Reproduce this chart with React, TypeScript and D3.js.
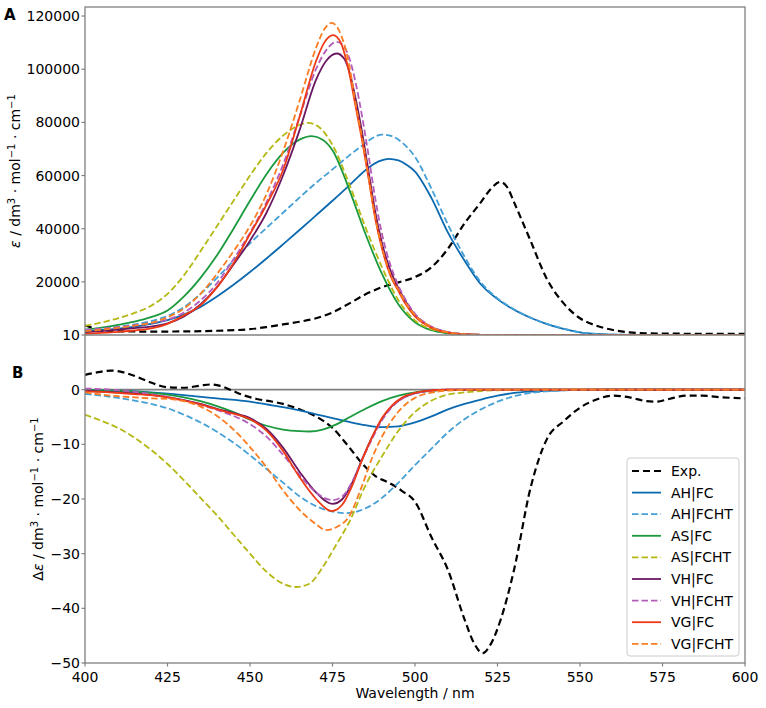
import React from 'react';
import * as d3 from 'd3';

type P = [number, number];

const X_TICKS = [400, 425, 450, 475, 500, 525, 550, 575, 600];
const A_TICKS = [10, 20000, 40000, 60000, 80000, 100000, 120000];
const B_TICKS = [0, -10, -20, -30, -40, -50];

const SERIES_NAMES = ['Exp.', 'AH|FC', 'AH|FCHT', 'AS|FC', 'AS|FCHT', 'VH|FC', 'VH|FCHT', 'VG|FC', 'VG|FCHT'];
const SERIES_COLORS = ['#000000', '#0b69b0', '#45a0d6', '#1a9a3c', '#b5b814', '#6a1862', '#b45cba', '#ee3a16', '#fb7d22'];
const SERIES_DASHED = [true, false, true, false, true, false, true, false, true];

// Panel A: absorption (epsilon)
const A_EXP: P[] = [[400,3600],[402,2800],[405,1800],[410,1400],[420,1300],[430,1350],[440,1600],[450,2200],[455,3000],[460,4000],[465,5000],[470,6300],[475,8500],[480,11800],[485,15300],[490,18000],[495,19800],[500,21800],[505,25500],[510,32500],[515,42000],[520,50000],[523,55000],[525.8,57600],[528,55500],[530,50000],[535,35500],[540,21000],[545,12000],[550,6300],[555,3500],[560,1900],[565,1000],[570,650],[580,500],[590,450],[600,450]];
const A_AH_FC: P[] = [[400,1300],[405,1800],[410,2400],[415,3200],[420,4200],[425,5600],[430,7700],[435,10600],[440,14500],[445,18900],[450,23700],[455,28800],[460,34100],[465,39500],[470,45000],[475,50500],[480,56200],[483,59800],[486,63000],[489,65300],[492,66300],[495,65700],[497.5,64000],[500,61500],[505,51500],[510,38500],[515,28000],[520,19000],[525,13500],[530,9500],[535,6500],[540,4100],[545,2300],[550,1000],[555,400],[560,150],[570,20],[600,0]];
const A_AH_FCHT: P[] = [[400,1900],[405,2500],[410,3100],[415,4000],[420,5200],[425,7200],[430,10500],[435,15500],[440,21500],[445,28000],[450,34500],[455,40300],[460,46000],[465,51700],[470,57200],[475,62300],[480,67500],[485,72200],[487,74000],[490,75400],[493,74800],[496,72500],[500,67000],[505,55000],[510,41500],[515,29500],[520,19800],[525,13800],[530,9700],[535,6600],[540,4200],[545,2400],[550,1050],[555,420],[560,160],[570,20],[600,0]];
const A_AS_FC: P[] = [[400,2000],[405,2800],[410,3800],[415,5000],[420,6700],[425,9200],[430,14500],[435,21500],[440,30000],[445,40000],[450,50500],[455,60500],[460,68500],[465,73500],[468.7,74800],[472,73500],[475,69500],[480,55000],[485,38000],[490,23000],[495,11500],[500,4800],[505,1800],[510,600],[515,180],[520,50],[530,0],[600,0]];
const A_AS_FCHT: P[] = [[400,3400],[405,4700],[410,6300],[415,8300],[420,11000],[425,15500],[430,22500],[435,31500],[440,41000],[445,50500],[450,60000],[455,68500],[460,75000],[465,79000],[467.5,79800],[470,79000],[475,71500],[480,57000],[485,40500],[490,25500],[495,13000],[500,5500],[505,2200],[510,800],[515,250],[520,80],[530,0],[600,0]];
const A_VH_FC: P[] = [[400,1100],[405,1500],[410,2000],[415,2600],[420,3200],[425,4400],[430,7000],[435,11500],[440,18000],[445,26500],[450,35500],[455,46000],[460,60000],[465,77000],[470,96000],[473,103000],[476.3,105900],[478.5,104000],[480,99500],[482,89000],[484,76000],[486,61000],[488,46000],[490,34500],[492.5,24500],[495,17500],[497.5,12000],[500,7500],[505,3000],[510,1000],[515,300],[520,80],[530,0],[600,0]];
const A_VH_FCHT: P[] = [[400,1900],[405,2400],[410,3000],[415,3700],[420,4500],[425,5800],[430,8500],[435,13000],[440,19500],[445,28500],[450,38500],[455,50000],[460,64000],[465,82000],[470,100000],[473,107000],[476.3,110300],[478.5,108500],[480,104500],[482,95000],[484,82000],[486,67000],[488,51000],[490,38000],[492.5,26500],[495,18500],[497.5,12500],[500,8000],[505,3200],[510,1100],[515,350],[520,100],[530,0],[600,0]];
const A_VG_FC: P[] = [[400,400],[405,800],[410,1200],[415,1700],[420,2500],[425,4200],[430,7400],[435,11200],[440,18000],[445,27000],[450,38000],[455,49000],[460,62000],[465,82000],[470,103000],[472.5,110000],[475.2,112800],[477.5,110000],[480,99000],[482,86000],[484,73000],[486,58500],[488,43500],[490,32500],[492.5,22500],[495,16500],[497.5,11000],[500,7000],[505,2700],[510,900],[515,250],[520,60],[530,0],[600,0]];
const A_VG_FCHT: P[] = [[400,1500],[405,2000],[410,2700],[415,3500],[420,4600],[425,6700],[430,10000],[435,15500],[440,23000],[445,31500],[450,41000],[455,53000],[460,69000],[465,88000],[470,108000],[472.5,115000],[474.7,117400],[477,114500],[480,102000],[482,87000],[484,74000],[486,59000],[488,44000],[490,33000],[492.5,23000],[495,17000],[497.5,11500],[500,7500],[505,3000],[510,1000],[515,300],[520,80],[530,0],[600,0]];

// Panel B: circular dichroism (delta epsilon)
const B_EXP: P[] = [[400,2.7],[404,3.2],[408,3.5],[412,3.1],[416,2.3],[420,1.3],[425,0.45],[430,0.35],[435,0.75],[438,0.95],[441,0.7],[444,0.0],[448,-1.0],[452,-1.7],[456,-2.1],[460,-2.6],[465,-3.6],[470,-4.9],[475,-7.0],[480,-10.5],[484,-13.5],[488,-15.8],[492,-17.0],[496,-18.5],[500,-20.5],[505,-27],[510,-33],[515,-42],[518,-46.5],[520.5,-48.2],[523,-46.5],[526,-42],[530,-33],[535,-18],[540,-9],[545,-5.8],[550,-3.3],[555,-1.8],[560,-1.1],[565,-1.4],[570,-2.1],[573,-2.2],[577,-1.7],[582,-1.1],[587,-1.1],[593,-1.4],[600,-1.6]];
const B_AH_FC: P[] = [[400,-0.05],[410,-0.2],[420,-0.5],[430,-1.0],[440,-1.6],[450,-2.2],[455,-2.7],[460,-3.2],[465,-3.8],[470,-4.5],[475,-5.2],[480,-5.9],[485,-6.5],[490,-6.85],[495,-6.7],[500,-6.0],[505,-4.9],[510,-3.6],[515,-2.6],[520,-1.8],[525,-1.1],[530,-0.6],[535,-0.35],[540,-0.2],[550,-0.05],[560,0],[600,0]];
const B_AH_FCHT: P[] = [[400,-0.75],[405,-1.1],[410,-1.5],[415,-2.0],[420,-2.6],[425,-3.4],[430,-4.6],[435,-6.0],[440,-7.7],[445,-9.7],[450,-12.0],[455,-14.5],[460,-17.0],[465,-19.5],[470,-21.3],[475,-22.3],[479,-22.6],[485,-21.7],[490,-19.8],[495,-17.0],[500,-13.8],[505,-10.8],[510,-7.8],[515,-5.4],[520,-3.6],[525,-2.2],[530,-1.2],[535,-0.6],[540,-0.3],[550,-0.05],[560,0],[600,0]];
const B_AS_FC: P[] = [[400,-0.05],[410,-0.2],[420,-0.6],[425,-0.9],[430,-1.4],[435,-2.1],[440,-3.0],[445,-4.1],[450,-5.5],[455,-6.6],[460,-7.3],[465,-7.6],[468,-7.65],[472,-7.3],[476,-6.4],[480,-5.1],[485,-3.5],[490,-2.1],[495,-1.1],[500,-0.5],[505,-0.2],[510,-0.05],[520,0],[600,0]];
const B_AS_FCHT: P[] = [[400,-4.6],[405,-5.7],[410,-7.0],[415,-8.8],[420,-11.0],[425,-13.6],[430,-16.6],[435,-19.8],[440,-23.0],[445,-26.5],[450,-30.0],[455,-33.3],[460,-35.5],[464,-36.1],[468,-35.5],[472,-32.5],[476,-28.5],[480,-24.3],[485,-17.5],[490,-12.2],[495,-7.5],[500,-4.1],[505,-2.0],[510,-0.9],[515,-0.5],[520,-0.25],[530,-0.05],[540,0],[600,0]];
const B_VH_FC: P[] = [[400,-0.2],[405,-0.35],[410,-0.5],[415,-0.7],[420,-0.95],[425,-1.35],[430,-1.9],[435,-2.6],[440,-3.5],[445,-4.3],[450,-5.2],[455,-7.2],[460,-10.6],[465,-15.0],[470,-18.8],[475,-20.9],[478,-20.0],[481,-17.0],[484,-12.7],[487,-8.7],[490,-5.3],[493,-3.0],[496,-1.6],[500,-0.65],[505,-0.15],[510,0],[600,0]];
const B_VH_FCHT: P[] = [[400,0.2],[405,0.1],[410,-0.1],[415,-0.4],[420,-0.8],[425,-1.3],[430,-2.0],[435,-2.8],[440,-3.7],[445,-4.8],[450,-6.3],[455,-8.6],[460,-11.9],[465,-15.6],[470,-18.8],[475,-20.2],[478,-19.5],[481,-16.8],[484,-12.8],[487,-9.0],[490,-5.6],[493,-3.2],[496,-1.7],[500,-0.7],[505,-0.2],[510,0],[600,0]];
const B_VG_FC: P[] = [[400,-0.3],[405,-0.4],[410,-0.6],[415,-0.8],[420,-1.0],[425,-1.4],[430,-2.0],[435,-2.7],[440,-3.6],[445,-4.4],[450,-5.4],[455,-7.5],[460,-11.2],[465,-16.0],[470,-20.0],[474.7,-22.2],[478,-21.0],[481,-17.5],[484,-12.8],[487,-8.7],[490,-5.2],[493,-2.9],[496,-1.5],[500,-0.6],[505,-0.15],[510,0],[600,0]];
const B_VG_FCHT: P[] = [[400,-0.5],[405,-0.9],[410,-1.2],[415,-1.4],[420,-1.6],[425,-1.7],[430,-2.1],[435,-3.1],[440,-4.8],[445,-7.3],[450,-10.5],[455,-14.2],[460,-18.4],[465,-22.0],[470,-24.6],[473,-25.7],[476,-25.2],[480,-23.2],[484,-17.5],[487,-12.5],[490,-8.6],[495,-4.0],[500,-1.5],[505,-0.55],[510,-0.15],[520,0],[600,0]];

const A_DATA = [A_EXP, A_AH_FC, A_AH_FCHT, A_AS_FC, A_AS_FCHT, A_VH_FC, A_VH_FCHT, A_VG_FC, A_VG_FCHT];
const B_DATA = [B_EXP, B_AH_FC, B_AH_FCHT, B_AS_FC, B_AS_FCHT, B_VH_FC, B_VH_FCHT, B_VG_FC, B_VG_FCHT];

const W = 766, H = 708;
const X0 = 85, X1 = 745, YT = 7, YM = 335, YB = 663;
const SPINE = '#808080';
const FS = 14;

const fmtB = (v: number) => (v < 0 ? '\u2212' + Math.abs(v) : String(v));

export default function App() {
  const x = d3.scaleLinear().domain([400, 600]).range([X0, X1]);
  const yA = d3.scaleLinear().domain([10, 123400]).range([YM, YT]);
  const yB = d3.scaleLinear().domain([-50, 10]).range([YB, YM]);
  const lineA = d3.line<P>().x(d => x(d[0])).y(d => yA(d[1])).curve(d3.curveMonotoneX);
  const lineB = d3.line<P>().x(d => x(d[0])).y(d => yB(d[1])).curve(d3.curveMonotoneX);

  const stroke = (i: number) => ({
    stroke: SERIES_COLORS[i],
    strokeWidth: i === 0 ? 2.2 : 1.8,
    strokeDasharray: SERIES_DASHED[i] ? (i === 0 ? '7,4' : '6.5,3') : undefined,
    fill: 'none',
  });

  const legX = 627, legY = 458, legW = 112, legH = 198, legRow = 21.6;

  return (
    <svg width={W} height={H} style={{ position: 'absolute', left: 0, top: 0, background: '#fff' }} fontFamily="DejaVu Sans" fontSize={FS}>
      <defs>
        <clipPath id="clipA"><rect x={X0} y={YT} width={X1 - X0} height={YM - YT} /></clipPath>
        <clipPath id="clipB"><rect x={X0} y={YM} width={X1 - X0} height={YB - YM} /></clipPath>
      </defs>
      <rect x={0} y={0} width={W} height={H} fill="#fff" />

      {/* zero line in B */}
      <line x1={X0} x2={X1} y1={yB(0)} y2={yB(0)} stroke={SPINE} strokeWidth={1.6} />

      <g clipPath="url(#clipA)">
        {A_DATA.map((d, i) => <path key={'a' + i} d={lineA(d) || ''} {...stroke(i)} />)}
      </g>
      <g clipPath="url(#clipB)">
        {B_DATA.map((d, i) => <path key={'b' + i} d={lineB(d) || ''} {...stroke(i)} />)}
      </g>

      {/* spines */}
      <rect x={X0} y={YT} width={X1 - X0} height={YB - YT} fill="none" stroke={SPINE} strokeWidth={1.3} />
      <line x1={X0} x2={X1} y1={YM} y2={YM} stroke={SPINE} strokeWidth={1.3} />

      {/* A y ticks */}
      {A_TICKS.map(t => (
        <g key={'ta' + t}>
          <line x1={X0 - 3.5} x2={X0} y1={yA(t)} y2={yA(t)} stroke={SPINE} strokeWidth={1.2} />
          <text x={X0 - 5} y={yA(t)} dy="0.36em" textAnchor="end">{String(t)}</text>
        </g>
      ))}
      {/* B y ticks */}
      {B_TICKS.map(t => (
        <g key={'tb' + t}>
          <line x1={X0 - 3.5} x2={X0} y1={yB(t)} y2={yB(t)} stroke={SPINE} strokeWidth={1.2} />
          <text x={X0 - 5} y={yB(t)} dy="0.36em" textAnchor="end">{fmtB(t)}</text>
        </g>
      ))}
      {/* x ticks */}
      {X_TICKS.map(t => (
        <g key={'tx' + t}>
          <line x1={x(t)} x2={x(t)} y1={YB} y2={YB + 3.5} stroke={SPINE} strokeWidth={1.2} />
          <text x={x(t)} y={682} textAnchor="middle">{String(t)}</text>
        </g>
      ))}
      <text x={(X0 + X1) / 2} y={698} textAnchor="middle">Wavelength / nm</text>

      {/* y labels */}
      <text transform={`translate(20,${(YT + YM) / 2}) rotate(-90)`} textAnchor="middle">
        <tspan fontStyle="italic">ε</tspan>
        <tspan> / dm</tspan>
        <tspan dy={-5} fontSize={10}>3</tspan>
        <tspan dy={5}> · mol</tspan>
        <tspan dy={-5} fontSize={10}>−1</tspan>
        <tspan dy={5}> · cm</tspan>
        <tspan dy={-5} fontSize={10}>−1</tspan>
      </text>
      <text transform={`translate(43,${(YM + YB) / 2}) rotate(-90)`} textAnchor="middle">
        <tspan>Δ</tspan>
        <tspan fontStyle="italic">ε</tspan>
        <tspan> / dm</tspan>
        <tspan dy={-5} fontSize={10}>3</tspan>
        <tspan dy={5}> · mol</tspan>
        <tspan dy={-5} fontSize={10}>−1</tspan>
        <tspan dy={5}> · cm</tspan>
        <tspan dy={-5} fontSize={10}>−1</tspan>
      </text>

      {/* panel letters */}
      <text x={4} y={20} fontWeight="bold" fontSize={15}>A</text>
      <text x={12} y={378} fontWeight="bold" fontSize={15}>B</text>

      {/* legend */}
      <rect x={legX} y={legY} width={legW} height={legH} rx={3} fill="#fff" fillOpacity={0.8} stroke="#cccccc" strokeWidth={1} />
      {SERIES_NAMES.map((n, i) => {
        const yy = legY + 13 + i * legRow;
        return (
          <g key={'l' + i}>
            <line x1={legX + 5} x2={legX + 34} y1={yy} y2={yy} {...stroke(i)} />
            <text x={legX + 44} y={yy} dy="0.36em">{n}</text>
          </g>
        );
      })}
    </svg>
  );
}
